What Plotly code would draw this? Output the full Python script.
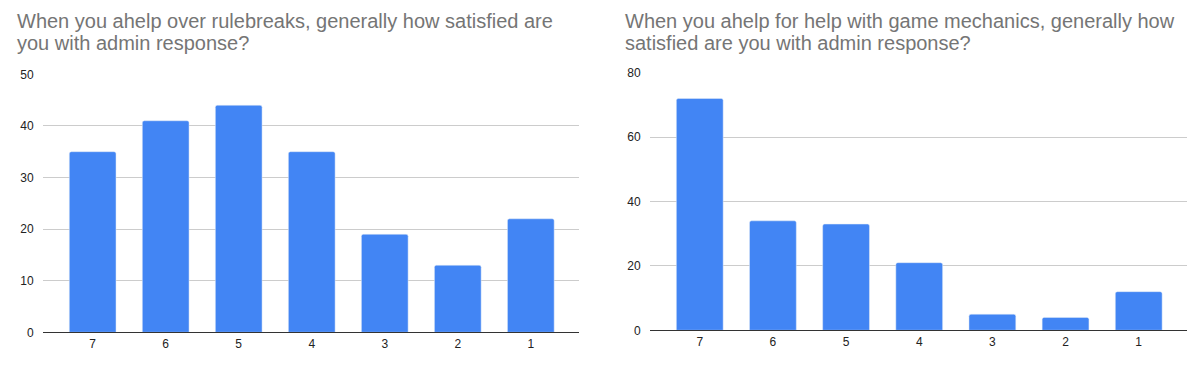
import plotly.graph_objects as go

categories = ["7", "6", "5", "4", "3", "2", "1"]
rulebreak_counts = [35, 41, 44, 35, 19, 13, 22]
mechanics_counts = [72, 34, 33, 21, 5, 4, 12]
title_left = ["When you ahelp over rulebreaks, generally how satisfied are",
              "you with admin response?"]
title_right = ["When you ahelp for help with game mechanics, generally how",
               "satisfied are you with admin response?"]

OFF = 8  # default page body margin
W, H = 1202 - 2 * OFF, 368 - 2 * OFF
BAR = "#4285F4"
FONT = "Arial, Liberation Sans, sans-serif"

def px(x):
    return (x - OFF) / W

def py(y):
    return 1 - (y - OFF) / H

fig = go.Figure()
fig.add_trace(go.Bar(x=categories, y=rulebreak_counts, marker=dict(color=BAR, cornerradius=2),
                     xaxis="x", yaxis="y", showlegend=False))
fig.add_trace(go.Bar(x=categories, y=mechanics_counts, marker=dict(color=BAR, cornerradius=2),
                     xaxis="x2", yaxis="y2", showlegend=False))

def xa(domain, anchor):
    return dict(domain=domain, anchor=anchor, type="category", range=[-0.68, 6.66],
                showgrid=False, showline=True, linecolor="#333333", linewidth=1.3,
                ticks="", tickfont=dict(family=FONT, size=12, color="#222222"),
                fixedrange=True, automargin=False)

def ya(domain, anchor, rng, dtick):
    return dict(domain=domain, anchor=anchor, range=rng, dtick=dtick,
                showgrid=True, gridcolor="#cccccc", gridwidth=1, zeroline=False,
                showline=False, ticks="outside", ticklen=6, tickcolor="rgba(0,0,0,0)",
                tickfont=dict(family=FONT, size=12, color="#222222"), fixedrange=True,
                automargin=False)

fig.update_layout(
    width=W, height=H, autosize=False,
    margin=dict(l=0, r=0, t=0, b=0, pad=0),
    paper_bgcolor="white", plot_bgcolor="white",
    bargap=0.36,
    xaxis=xa([px(43), px(579)], "y"),
    yaxis=ya([py(332.3), py(74.3)], "x", [0, 50], 10),
    xaxis2=xa([px(650), px(1187)], "y2"),
    yaxis2=ya([py(330.3), py(72.7)], "x2", [0, 80], 20),
)

annotations = []
for lines, x0 in ((title_left, 15), (title_right, 623)):
    for i, line in enumerate(lines):
        annotations.append(dict(
            text=line, xref="paper", yref="paper", x=px(x0), y=py(21.5 + 21 * i),
            xanchor="left", yanchor="middle", showarrow=False,
            font=dict(family=FONT, size=20, color="#757575")))
fig.update_layout(annotations=annotations)

fig.write_html("out.html")
